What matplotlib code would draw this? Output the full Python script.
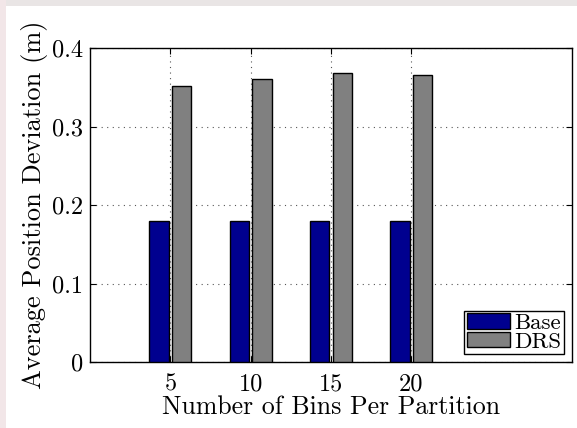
import numpy as np
import matplotlib.pyplot as plt
from matplotlib.patches import Rectangle

plt.rcParams['font.family'] = 'serif'
plt.rcParams['font.serif'] = ['cmr10', 'DejaVu Serif']
plt.rcParams['mathtext.fontset'] = 'cm'
plt.rcParams['axes.unicode_minus'] = False
plt.rcParams['axes.formatter.use_mathtext'] = True

# Average position deviation per number of bins
bins = ['5', '10', '15', '20']
base = [0.18, 0.18, 0.18, 0.18]
drs = [0.351, 0.360, 0.368, 0.366]

fig = plt.figure(figsize=(5.77, 4.28), dpi=100)
fig.patch.set_facecolor('white')
# light frame strip along top and left edges
fig.patches.append(Rectangle((0, 1 - 6 / 428), 1, 6 / 428, transform=fig.transFigure,
                             facecolor='#e9e5e5', edgecolor='none', zorder=0))
fig.patches.append(Rectangle((0, 0), 6 / 577, 1, transform=fig.transFigure,
                             facecolor='#f2e6e8', edgecolor='none', zorder=0))

ax = fig.add_axes([90 / 577, 1 - 362 / 428, 482 / 577, 314 / 428])

x = np.arange(1, len(bins) + 1)
w = 0.24
ax.bar(x - 0.14, base, w, color='#00008f', edgecolor='black', linewidth=1.0,
       label='Base', zorder=3)
ax.bar(x + 0.14, drs, w, color='#808080', edgecolor='black', linewidth=1.0,
       label='DRS', zorder=3)

ax.set_xlim(0, 6)
ax.set_ylim(0, 0.4)
ax.set_xticks(x)
ax.set_xticklabels(bins)
ax.set_yticks([0, 0.1, 0.2, 0.3, 0.4])
ax.set_yticklabels(['0', '0.1', '0.2', '0.3', '0.4'])
ax.tick_params(direction='in', length=4, labelsize=17.5, top=True, right=True)
ax.tick_params(axis='x', pad=8)
ax.tick_params(axis='y', pad=5)
ax.grid(True, linestyle=(0, (1, 4)), color='#555555', linewidth=0.8, zorder=0)
ax.set_axisbelow(True)
for s in ax.spines.values():
    s.set_linewidth(1.0)

ax.set_xlabel('Number of Bins Per Partition', fontsize=18.6, labelpad=0)
ax.set_ylabel('Average Position Deviation (m)', fontsize=19, labelpad=3)

leg = ax.legend(loc='lower right', fontsize=16.5, frameon=True, fancybox=False,
                edgecolor='black', framealpha=1, borderpad=0.1, handlelength=1.9,
                handleheight=0.65, handletextpad=0.2, labelspacing=-0.05,
                borderaxespad=0.35)
leg.get_frame().set_linewidth(1.0)

fig.savefig('out.png', dpi=100)
